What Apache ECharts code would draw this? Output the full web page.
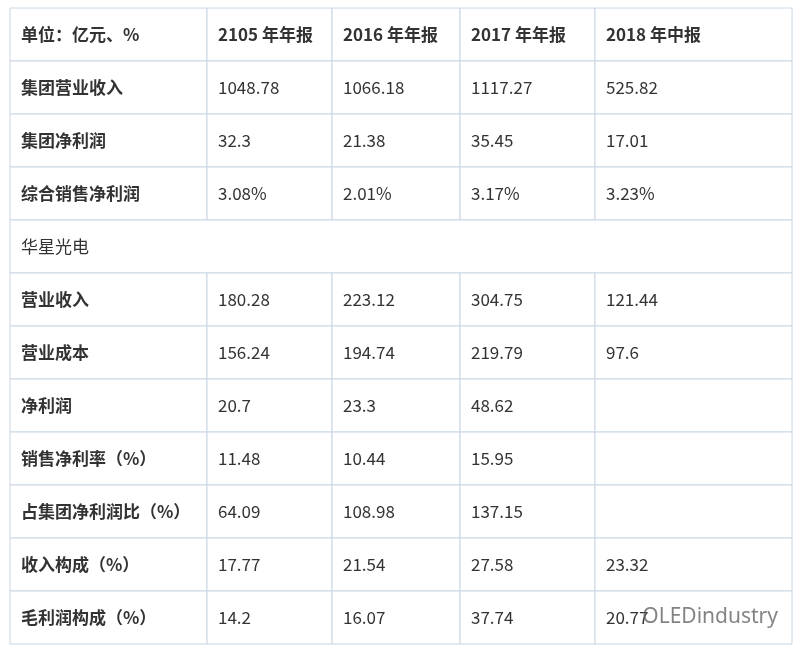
<!DOCTYPE html>
<html><head><meta charset="utf-8">
<script src="https://cdn.jsdelivr.net/npm/echarts@6/dist/echarts.min.js"></script>
<style>html,body{margin:0;background:#fff}#c{width:800px;height:650px}</style>
</head><body><div id="c"></div>
<script>
const headers = ['单位：亿元、%', '2105 年年报', '2016 年年报', '2017 年年报', '2018 年中报'];
const rowLabels = ['集团营业收入','集团净利润','综合销售净利润','华星光电','营业收入','营业成本','净利润','销售净利率（%）','占集团净利润比（%）','收入构成（%）','毛利润构成（%）'];
const col2015 = ['1048.78','32.3','3.08%','','180.28','156.24','20.7','11.48','64.09','17.77','14.2'];
const col2016 = ['1066.18','21.38','2.01%','','223.12','194.74','23.3','10.44','108.98','21.54','16.07'];
const col2017 = ['1117.27','35.45','3.17%','','304.75','219.79','48.62','15.95','137.15','27.58','37.74'];
const col2018 = ['525.82','17.01','3.23%','','121.44','97.6','','','','23.32','20.77'];
const mergedRow = 3;

const colEdges = [0, 197, 322, 450, 585, 782];
const cells = [];
headers.forEach((h, c) => cells.push([c, 0, h, 1]));
const cols = [col2015, col2016, col2017, col2018];
rowLabels.forEach((lab, i) => {
  const r = i + 1;
  if (i === mergedRow) { cells.push([-1, r, lab, 0]); return; }
  cells.push([0, r, lab, 1]);
  cols.forEach((col, c) => cells.push([c + 1, r, col[i], 0]));
});

const chart = echarts.init(document.getElementById('c'));
chart.setOption({
  backgroundColor: '#fff',
  grid: {left: 10, right: 8, top: 8, bottom: 6},
  xAxis: {type: 'value', min: 0, max: 782, show: false},
  yAxis: {type: 'value', min: 0, max: 12, inverse: true, show: false},
  series: [{
    type: 'custom',
    data: cells,
    renderItem: (params, api) => {
      const c = api.value(0), r = api.value(1);
      const x0 = c < 0 ? 0 : colEdges[c], x1 = c < 0 ? 782 : colEdges[c + 1];
      const p0 = api.coord([x0, r]), p1 = api.coord([x1, r + 1]);
      const d = cells[params.dataIndex];
      return {
        type: 'group',
        children: [
          {type: 'rect', shape: {x: p0[0], y: p0[1], width: p1[0] - p0[0], height: p1[1] - p0[1]},
           style: {fill: '#fff', stroke: '#c9d6e3', lineWidth: 1}},
          {type: 'text', style: {x: p0[0] + 11, y: (p0[1] + p1[1]) / 2, text: d[2],
            fill: '#333', fontSize: 17, fontWeight: d[3] ? 'bold' : 'normal',
            fontFamily: '"Noto Sans CJK SC", "Noto Sans", sans-serif', verticalAlign: 'middle', align: 'left'}}
        ]
      };
    }
  }],
  graphic: [{type: 'text', right: 22, bottom: 22, z: 10,
    style: {text: 'OLEDindustry', fontSize: 21, fill: 'rgba(90,90,90,0.75)', fontFamily: 'Noto Sans, sans-serif'}}]
});
</script></body></html>
